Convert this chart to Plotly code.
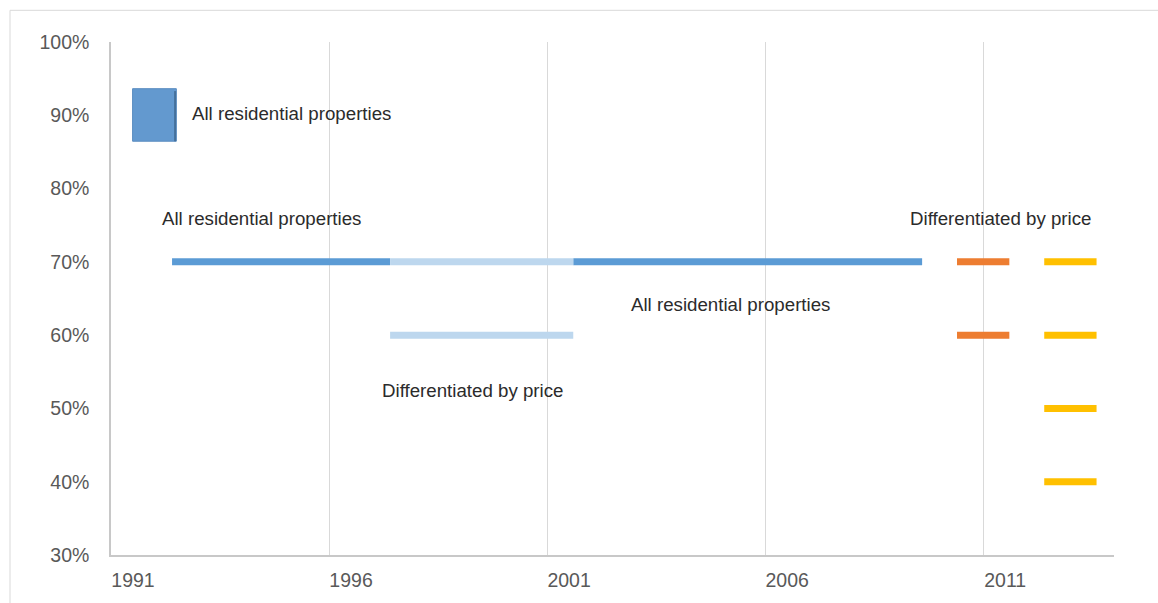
import plotly.graph_objects as go

# Tax rate periods (decimal years) and rates
all_start = [1992.4, 2001.6]
all_end = [1997.4, 2009.6]
all_rate = [0.70, 0.70]

transition_start = [1997.4, 1997.4]
transition_end = [2001.6, 2001.6]
transition_rate = [0.70, 0.60]

price_a_start = [2010.4, 2010.4]
price_a_end = [2011.6, 2011.6]
price_a_rate = [0.70, 0.60]

price_b_start = [2012.4, 2012.4, 2012.4, 2012.4]
price_b_end = [2013.6, 2013.6, 2013.6, 2013.6]
price_b_rate = [0.70, 0.60, 0.50, 0.40]

year_ticks = [1991, 1996, 2001, 2006, 2011]
year_labels = ["1991", "1996", "2001", "2006", "2011"]
rate_ticks = [0.3, 0.4, 0.5, 0.6, 0.7, 0.8, 0.9, 1.0]

C_BLUE = "#5b9bd5"
C_LIGHT = "#bdd7ee"
C_ORANGE = "#ed7d31"
C_YELLOW = "#ffc000"
FONT = "Liberation Sans, Arial, sans-serif"


def segments(starts, ends, rates):
    xs, ys = [], []
    for s, e, r in zip(starts, ends, rates):
        xs += [s, e, None]
        ys += [r, r, None]
    return xs, ys


fig = go.Figure()
for starts, ends, rates, color in [
    (all_start, all_end, all_rate, C_BLUE),
    (transition_start, transition_end, transition_rate, C_LIGHT),
    (price_a_start, price_a_end, price_a_rate, C_ORANGE),
    (price_b_start, price_b_end, price_b_rate, C_YELLOW),
]:
    xs, ys = segments(starts, ends, rates)
    fig.add_trace(go.Scatter(x=xs, y=ys, mode="lines",
                             line=dict(color=color, width=7),
                             hoverinfo="skip", showlegend=False))

label_font = dict(family=FONT, size=18.7, color="#2b2b2b")
notes = [
    (1994.45, 0.759, "All residential properties"),
    (2005.21, 0.6425, "All residential properties"),
    (1999.29, 0.5248, "Differentiated by price"),
    (2011.40, 0.759, "Differentiated by price"),
]
annotations = [dict(x=x, y=y, text=t, showarrow=False, font=label_font,
                    xanchor="center", yanchor="middle") for x, y, t in notes]
# legend entry text
annotations.append(dict(x=1992.8, y=0.9025, text="All residential properties",
                        showarrow=False, font=label_font,
                        xanchor="left", yanchor="middle"))

shapes = [
    # legend swatch
    dict(type="rect", xref="x", yref="y", x0=1991.495, x1=1992.498,
         y0=0.8646, y1=0.9363, fillcolor="#6399cf",
         line=dict(color="#5a8cc0", width=1), layer="above"),
    dict(type="line", xref="x", yref="y", x0=1992.47, x1=1992.47,
         y0=0.8646, y1=0.9330, line=dict(color="#45709b", width=2)),
    # outer chart border
    dict(type="rect", xref="paper", yref="paper",
         x0=(10 - 111) / 1003, x1=(1170 - 111) / 1003,
         y0=(560 - 620) / 518, y1=(560 - 10) / 518,
         line=dict(color="#d9d9d9", width=1), fillcolor="rgba(0,0,0,0)"),
]

fig.update_layout(
    width=1158, height=603,
    margin=dict(l=111, r=44, t=42, b=43),
    paper_bgcolor="white", plot_bgcolor="white",
    annotations=annotations, shapes=shapes,
    showlegend=False,
)
fig.update_xaxes(
    range=[1991, 2014], tickvals=year_ticks, ticktext=year_labels,
    showgrid=True, gridcolor="#d9d9d9", gridwidth=1,
    showline=True, linecolor="#c8c8c8", linewidth=2,
    ticks="", zeroline=False, ticklabelshift=22, ticklabelstandoff=7,
    tickfont=dict(family=FONT, size=19.5, color="#595959"),
)
fig.update_yaxes(
    range=[0.3, 1.0], tickvals=rate_ticks, tickformat=".0%",
    showgrid=False, showline=True, linecolor="#c8c8c8", linewidth=1.5,
    ticks="", zeroline=False, ticklabelstandoff=16,
    tickfont=dict(family=FONT, size=19.5, color="#595959"),
)

fig.write_html("out.html")
